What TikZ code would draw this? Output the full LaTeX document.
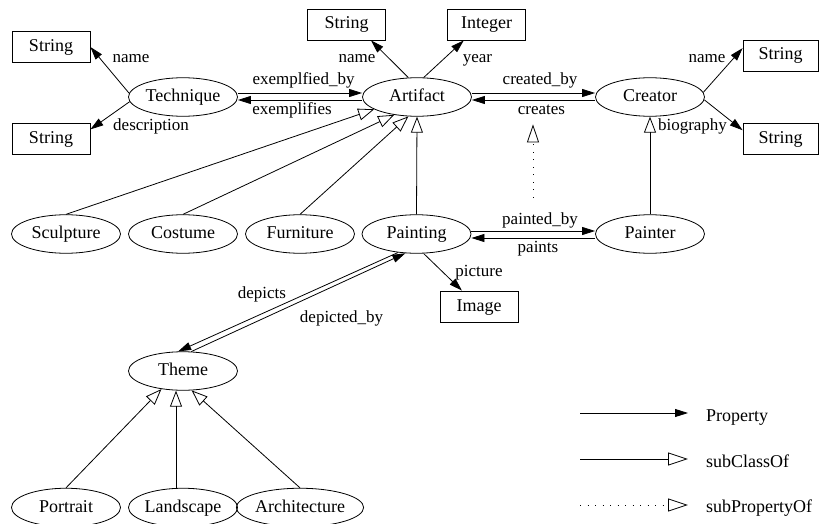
\documentclass[tikz,border=0pt]{standalone}
\usepackage{fontspec}
\setmainfont{Liberation Serif}
\usetikzlibrary{arrows.meta,shapes.geometric}

\begin{document}
\begin{tikzpicture}[
  cls/.style={ellipse, draw=black, line width=0.8pt, minimum width=109pt, minimum height=38.5pt, inner sep=0pt, text height=12.5pt, text depth=3.5pt, font=\fontsize{18}{20}\selectfont},
  lit/.style={rectangle, draw=black, line width=0.8pt, minimum width=78pt, minimum height=31pt, inner sep=0pt, text height=12.5pt, text depth=3.5pt, font=\fontsize{18}{20}\selectfont},
  lbl/.style={anchor=base, inner sep=1pt, font=\fontsize{17}{19}\selectfont},
  prop/.style={line width=0.8pt, -{Triangle[length=13pt, width=8pt]}},
  isa/.style={line width=0.8pt, -{Triangle[open, length=16pt, width=12pt, line width=0.8pt]}},
  subprop/.style={line width=0.8pt, dash pattern=on 1pt off 6.5pt, -{Triangle[open, length=18pt, width=12pt, line width=0.8pt]}}]
\useasboundingbox (0pt,0pt) rectangle (819pt,-524pt);
% classes and literals
\node (strtech1) [lit] at (51.0pt, -47.0pt) {String};
\node (strtech2) [lit] at (51.0pt, -138.5pt) {String};
\node (technique) [cls] at (183.0pt, -97.0pt) {Technique};
\node (strart) [lit] at (346.5pt, -24.5pt) {String};
\node (integer) [lit] at (486.5pt, -24.5pt) {Integer};
\node (artifact) [cls] at (417.0pt, -97.0pt) {Artifact};
\node (creator) [cls] at (650.0pt, -97.0pt) {Creator};
\node (strcre1) [lit, minimum width=75pt] at (780.5pt, -55.5pt) {String};
\node (strcre2) [lit, minimum width=75pt] at (780.5pt, -139.0pt) {String};
\node (sculpture) [cls] at (66.0pt, -234.0pt) {Sculpture};
\node (costume) [cls] at (183.0pt, -234.0pt) {Costume};
\node (furniture) [cls] at (300.0pt, -234.0pt) {Furniture};
\node (painting) [cls] at (416.5pt, -234.0pt) {Painting};
\node (painter) [cls] at (650.0pt, -234.0pt) {Painter};
\node (image) [lit] at (479.0pt, -306.5pt) {Image};
\node (theme) [cls] at (183.0pt, -371.0pt) {Theme};
\node (portrait) [cls] at (66.0pt, -507.5pt) {Portrait};
\node (landscape) [cls] at (183.0pt, -507.5pt) {Landscape};
\node (architecture) [cls] at (300.0pt, -507.5pt) {Architecture};
% property labels
\node (lname1) [lbl] at (131.0pt, -63.0pt) {name};
\node (ldescription) [lbl] at (151.0pt, -131.0pt) {description};
\node (lexemplfied) [lbl] at (303.5pt, -85.0pt) {exemplfied\_by};
\node (lexemplifies) [lbl] at (292.0pt, -115.0pt) {exemplifies};
\node (lname2) [lbl] at (357.0pt, -63.0pt) {name};
\node (lyear) [lbl] at (477.5pt, -63.0pt) {year};
\node (lcreatedby) [lbl] at (540.0pt, -85.0pt) {created\_by};
\node (lcreates) [lbl] at (541.5pt, -115.0pt) {creates};
\node (lname3) [lbl] at (707.0pt, -63.0pt) {name};
\node (lbiography) [lbl] at (692.5pt, -131.0pt) {biography};
\node (lpaintedby) [lbl] at (540.0pt, -224.0pt) {painted\_by};
\node (lpaints) [lbl] at (538.0pt, -252.0pt) {paints};
\node (lpicture) [lbl] at (479.0pt, -276.0pt) {picture};
\node (ldepicts) [lbl] at (262.0pt, -298.0pt) {depicts};
\node (ldepictedby) [lbl] at (341.5pt, -322.0pt) {depicted\_by};
% properties
\draw [prop] (technique.176) to (strtech1.east);
\draw [prop] (technique.185) to (strtech2.13);
\draw [prop] ([yshift=4pt]technique.east) to ([yshift=4pt]artifact.west);
\draw [prop] ([yshift=-3pt]artifact.west) to ([yshift=-3pt]technique.east);
\draw [prop] (artifact.114) to (strart.327);
\draw [prop] (artifact.71) to (integer.215);
\draw [prop] ([yshift=4pt]artifact.east) to ([yshift=4pt]creator.west);
\draw [prop] ([yshift=-3pt]creator.west) to ([yshift=-3pt]artifact.east);
\draw [prop] (creator.5) to (strcre1.169);
\draw [prop] (creator.357) to (strcre2.167);
\draw [prop] ([yshift=3pt]painting.east) to ([yshift=3pt]painter.west);
\draw [prop] ([yshift=-4pt]painter.west) to ([yshift=-4pt]painting.east);
\draw [prop] (painting.290) to (image.137);
\draw [prop] (painting.225) to (theme.104);
\draw [prop] (theme.67) to (painting.240);
% subclasses
\draw [isa] (sculpture.north) to (artifact.196);
\draw [isa] (costume.north) to (artifact.218);
\draw [isa] (furniture.north) to (artifact.246);
\draw [isa] (painting.north) to (artifact.south);
\draw [isa] (painter.north) to (creator.south);
\draw [isa] (portrait.north) to (theme.220);
\draw [isa] ([xshift=-7pt]landscape.north) to ([xshift=-7pt]theme.south);
\draw [isa] (architecture.north) to (theme.294);
% subproperty
\draw [subprop, shorten <=13.5pt, shorten >=8pt] ([xshift=-7pt]lpaintedby.north) to ([xshift=-8.5pt]lcreates.south);
% legend
\coordinate (lgpropa) at (580.0pt, -413.0pt);
\coordinate (lgpropb) at (688.0pt, -413.0pt);
\coordinate (lgisaa) at (580.0pt, -459.0pt);
\coordinate (lgisab) at (688.0pt, -459.0pt);
\coordinate (lgsuba) at (580.0pt, -505.0pt);
\coordinate (lgsubb) at (688.0pt, -505.0pt);
\node (lgprop) [lbl, anchor=base west, font=\fontsize{18}{20}\selectfont] at (705.0pt, -421.0pt) {Property};
\node (lgisa) [lbl, anchor=base west, font=\fontsize{18}{20}\selectfont] at (705.0pt, -467.0pt) {subClassOf};
\node (lgsub) [lbl, anchor=base west, font=\fontsize{18}{20}\selectfont] at (705.0pt, -512.0pt) {subPropertyOf};
\draw [prop] (lgpropa) to (lgpropb);
\draw [isa, -{Triangle[open, length=20pt, width=13pt, line width=0.8pt]}] (lgisaa) to (lgisab);
\draw [subprop, -{Triangle[open, length=20pt, width=13pt, line width=0.8pt]}] (lgsuba) to (lgsubb);
\end{tikzpicture}
\end{document}
